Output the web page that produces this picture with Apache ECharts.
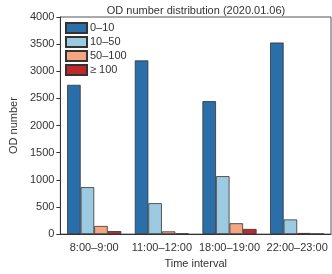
<!DOCTYPE html>
<html><head><meta charset="utf-8">
<script src="https://cdn.jsdelivr.net/npm/echarts@6/dist/echarts.min.js"></script>
<style>html,body{margin:0;padding:0;background:#fff}#c{width:332px;height:274px}</style>
</head><body><div id="c"></div>
<script>
const categories = ['8:00\u20139:00', '11:00\u201312:00', '18:00\u201319:00', '22:00\u201323:00'];
const seriesNames = ['0\u201310', '10\u201350', '50\u2013100', '\u2265 100'];
const s0_10 = [2750, 3200, 2450, 3530];
const s10_50 = [865, 570, 1068, 270];
const s50_100 = [150, 50, 200, 20];
const s100 = [55, 10, 95, 5];
const yTicks = [0, 500, 1000, 1500, 2000, 2500, 3000, 3500, 4000];
const colors = ['#2a6eaa', '#9ccae0', '#f4a582', '#c0282b'];

const font = 'Liberation Sans, Arial, sans-serif';
const chart = echarts.init(document.getElementById('c'), null, {renderer: 'canvas'});
const data = [s0_10, s10_50, s50_100, s100];
chart.setOption({
  animation: false,
  title: {text: 'OD number distribution (2020.01.06)', left: 191, top: 0, textAlign: 'center',
    textStyle: {fontFamily: font, fontSize: 11, fontWeight: 'normal', color: '#333'}},
  grid: {left: 51, top: 17, right: 1, bottom: 34, show: true, borderColor: '#555', borderWidth: 1},
  legend: {
    left: 65, top: 22, padding: 0, orient: 'vertical', itemWidth: 21, itemHeight: 10, itemGap: 2,
    textStyle: {fontFamily: font, fontSize: 11, color: '#333', padding: [0,0,0,-2]},
    data: seriesNames.map(n => ({name: n, icon: 'rect'}))
  },
  xAxis: {
    type: 'category', data: categories,
    name: 'Time interval', nameLocation: 'middle', nameGap: 19,
    nameTextStyle: {fontFamily: font, fontSize: 11, color: '#333'},
    axisLine: {lineStyle: {color: '#333'}},
    axisTick: {show: false},
    axisLabel: {fontFamily: font, fontSize: 11, color: '#333', margin: 8, interval: 0}
  },
  yAxis: {
    type: 'value', min: yTicks[0], max: yTicks[yTicks.length-1], interval: 500,
    name: 'OD number', nameLocation: 'middle', nameGap: 40,
    nameTextStyle: {fontFamily: font, fontSize: 11, color: '#333'},
    axisLine: {show: true, lineStyle: {color: '#333'}},
    axisTick: {show: true, length: 4, lineStyle: {color: '#333'}},
    axisLabel: {fontFamily: font, fontSize: 11, color: '#333', margin: 6, formatter: v => String(v)},
    splitLine: {show: false}
  },
  series: seriesNames.map((n, i) => ({
    name: n, type: 'bar', data: data[i], barGap: '0%', barCategoryGap: '20%',
    itemStyle: {color: colors[i], borderColor: '#333', borderWidth: 0.8}
  }))
});
</script></body></html>
